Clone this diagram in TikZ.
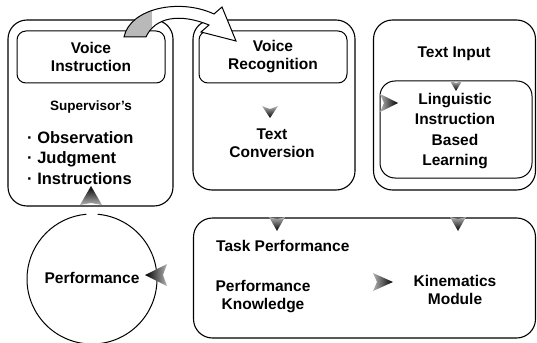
\documentclass[tikz,border=0pt]{standalone}
\usepackage{fontspec}
\setmainfont{Liberation Sans}
\usetikzlibrary{calc}
\begin{document}
\begin{tikzpicture}[x=1pt,y=-1pt,
  outer/.style={draw, line width=1.1pt, rounded corners=19pt, inner sep=0pt},
  inner/.style={draw, line width=1pt, rounded corners=9pt, inner sep=0pt},
  lbl/.style={font=\bfseries\fontsize{15.5}{18}\selectfont, align=center, inner sep=0pt},
  lblwide/.style={font=\bfseries\fontsize{15.5}{20.5}\selectfont, align=center, inner sep=0pt},
  listlbl/.style={font=\bfseries\fontsize{16.5}{20.5}\selectfont, align=left, inner sep=0pt},
  small/.style={font=\bfseries\fontsize{13.5}{15}\selectfont, inner sep=0pt},
  headR/.style={left color=gray!60, right color=black},
  headL/.style={right color=gray!60, left color=black},
  headD/.style={top color=gray!60, bottom color=black},
  headU/.style={bottom color=gray!60, top color=black}]
\useasboundingbox (0,0) rectangle (537,342);

% outer boxes
\node[outer, minimum width=165pt, minimum height=186pt] (b1) at (90.5,113) {};
\node[outer, minimum width=162pt, minimum height=170pt] (b2) at (274,105) {};
\node[outer, minimum width=162pt, minimum height=170pt] (b3) at (454.5,105) {};
\node[outer, minimum width=342pt, minimum height=120pt] (b4) at (364.5,278) {};

% inner boxes
\node[inner, minimum width=148pt, minimum height=52pt] (vi) at (91,57) {};
\node[inner, minimum width=148pt, minimum height=52pt] (vr) at (273,57) {};
\node[inner, rounded corners=15pt, minimum width=152pt, minimum height=97pt] (li) at (456,129.5) {};

% texts
\node[lbl] (tvi) at (vi.center) {Voice\\Instruction};
\node[lbl] (tvr) at (vr.center) {Voice\\Recognition};
\node[small] (sup) at (91,107) {Supervisor's};
\node[listlbl, anchor=west] (list) at (27,158)
  {· Observation\\· Judgment\\· Instructions};
\node[lbl] (tc) at (272,143) {Text\\Conversion};
\node[lbl] (ti) at (454,54) {Text Input};
\node[lblwide] (tli) at (455,131) {Linguistic\\Instruction\\Based\\Learning};
\node[lbl, anchor=west] (tp) at (216,246) {Task Performance};
\node[lbl] (pk) at (263,297) {Performance\\Knowledge};
\node[lbl] (km) at (455,290) {Kinematics\\Module};

% performance circle
\node[lbl, circle, minimum size=130pt] (perf) at (92,279) {};
\node[lbl] (tperf) at (92,278) {Performance};
\draw[line width=1pt] (perf.center) ++(-85:65) arc[start angle=-85, end angle=265, radius=65];

% curved block arrow from Voice Instruction to Voice Recognition
\coordinate (ca1) at (124,37);
\coordinate (ca2) at (146,37);
\path[fill=white, draw=black, line width=1pt,
  path picture={\fill[gray!55] (100,-10) rectangle (152,50);}]
  (ca1) .. controls (130,8) and (180,-2) .. (214,14) -- (222,7) -- (236,41)
  -- (201,32) -- (209,25) .. controls (180,13) and (155,17) .. (ca2) -- cycle;

% arrow heads
\shade[headU] (91,186) -- ++(-11,19) -- ++(11,-2) -- ++(11,2) -- cycle;
\shade[headL] (145,275) -- ++(22,-11) -- ++(-4,11) -- ++(4,11) -- cycle;
\shade[headD] (270,118) -- ++(-8,-12) -- ++(8,3) -- ++(8,-3) -- cycle;
\shade[headR] (398,103) -- ++(-18,-9) -- ++(4,9) -- ++(-4,9) -- cycle;
\shade[headD] (456,91) -- ++(-6,-10) -- ++(6,2) -- ++(6,-2) -- cycle;
\shade[headD] (277,231) -- ++(-8,-14) -- ++(8,2) -- ++(8,-2) -- cycle;
\shade[headD] (458,231) -- ++(-8,-14) -- ++(8,2) -- ++(8,-2) -- cycle;
\shade[headR] (393,282) -- ++(-20,-9) -- ++(4,9) -- ++(-4,9) -- cycle;
\end{tikzpicture}
\end{document}
